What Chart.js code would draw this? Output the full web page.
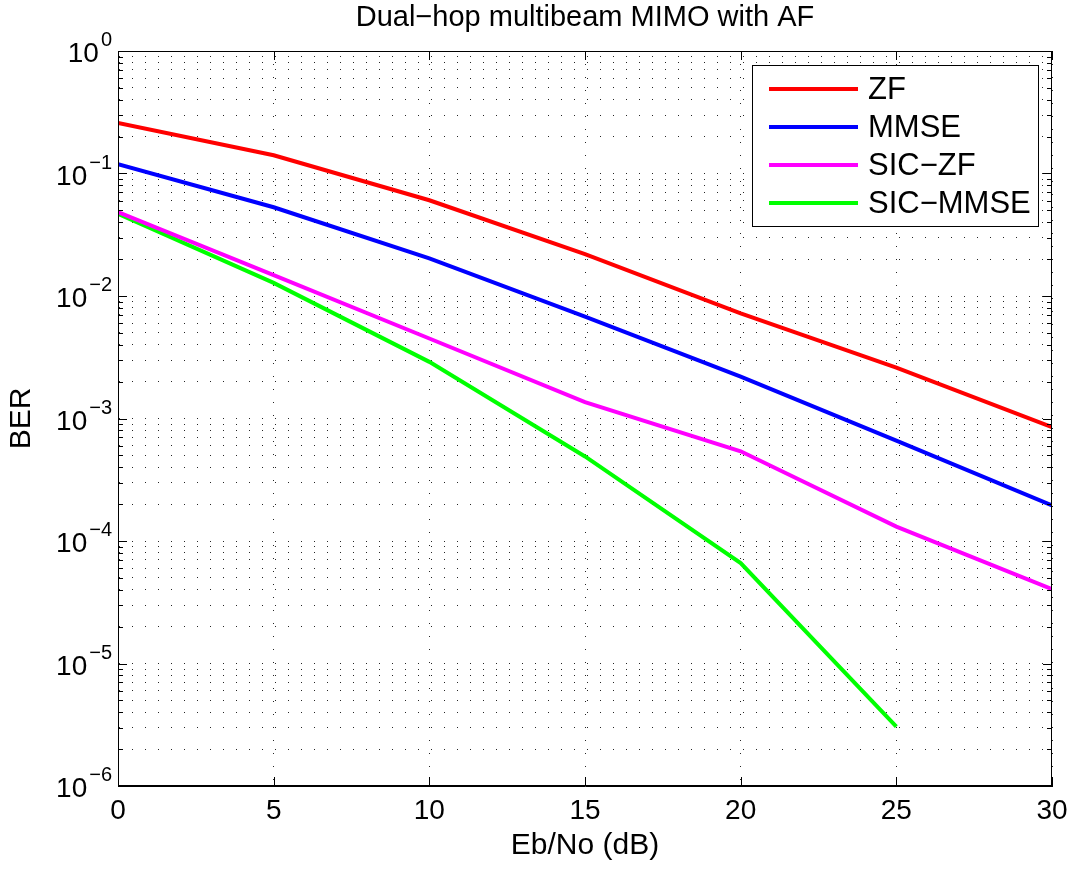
<!DOCTYPE html>
<html>
<head>
<meta charset="utf-8">
<script src="https://cdn.jsdelivr.net/npm/chart.js@4/dist/chart.umd.min.js"></script>
<style>
  html, body { margin: 0; padding: 0; background: #fff; }
  #wrap { width: 1079px; height: 874px; }
</style>
</head>
<body>
<div id="wrap"><canvas id="berChart" width="1079" height="874"></canvas></div>
<script>
// Eb/No points (dB)
const ebno = [0, 5, 10, 15, 20, 25, 30];

// BER curves
const berZF = [0.258, 0.141, 0.0605, 0.0220, 0.0072, 0.0026, 0.00085];
const berMMSE = [0.119, 0.053, 0.0203, 0.0068, 0.0022, 0.00066, 0.000195];
const berSicZF = [0.0485, 0.0148, 0.0045, 0.00136, 0.00054, 0.000131, 0.0000405];
const berSicMMSE = [0.0468, 0.0128, 0.0029, 0.00049, 0.000066, 0.00000305, null];

const seriesNames = ['ZF', 'MMSE', 'SIC\u2212ZF', 'SIC\u2212MMSE'];
const seriesColors = ['#ff0000', '#0000ff', '#ff00ff', '#00ff00'];

// axis ticks
const xTicks = [0, 5, 10, 15, 20, 25, 30];
const yTickExps = [0, -1, -2, -3, -4, -5, -6];

const chartTitle = 'Dual\u2212hop multibeam MIMO with AF';
const FONT = "'Liberation Sans', Arial, Helvetica, sans-serif";

function toPoints(ys) {
    return ebno.map((x, i) => ({ x: x, y: ys[i] })).filter(p => p.y !== null);
}

const allSeries = [berZF, berMMSE, berSicZF, berSicMMSE];

// title over the plot box, y tick labels as 10 with a raised exponent,
// inward ticks, box and legend
const matlabAxes = {
    id: 'matlabAxes',
    afterDraw(chart) {
        const { ctx, chartArea: a, scales } = chart;
        const xs = scales.x, ys = scales.y;
        ctx.save();

        // title centred on the axes
        ctx.fillStyle = '#000';
        ctx.font = '29px ' + FONT;
        ctx.textAlign = 'center';
        ctx.textBaseline = 'alphabetic';
        ctx.fillText(chartTitle, (a.left + a.right) / 2, a.top - 25);

        ctx.strokeStyle = '#000';
        ctx.lineWidth = 1;
        // box
        ctx.strokeRect(a.left + 0.5, a.top + 0.5, a.right - a.left - 1, a.bottom - a.top - 1);
        ctx.beginPath();
        // x ticks (bottom and top)
        xTicks.forEach(v => {
            const px = Math.round(xs.getPixelForValue(v)) + 0.5;
            ctx.moveTo(px, a.bottom); ctx.lineTo(px, a.bottom - 9);
            ctx.moveTo(px, a.top); ctx.lineTo(px, a.top + 9);
        });
        // y ticks, major and minor (left and right)
        yTickExps.forEach(e => {
            for (let m = 1; m <= 9; m++) {
                const v = m * Math.pow(10, e);
                if (v > 1) continue;
                const py = Math.round(ys.getPixelForValue(v)) + 0.5;
                const len = m === 1 ? 9 : 5;
                ctx.moveTo(a.left, py); ctx.lineTo(a.left + len, py);
                ctx.moveTo(a.right, py); ctx.lineTo(a.right - len, py);
            }
        });
        ctx.stroke();

        // y tick labels
        yTickExps.forEach(e => {
            const py = ys.getPixelForValue(Math.pow(10, e));
            const expTxt = e < 0 ? '\u2212' + (-e) : String(e);
            ctx.font = '20px ' + FONT;
            const ew = ctx.measureText(expTxt).width;
            const right = a.left - 6;
            ctx.textAlign = 'left';
            ctx.fillText(expTxt, right - ew, py - 5);
            ctx.font = '28px ' + FONT;
            ctx.textAlign = 'right';
            ctx.fillText('10', right - ew - 2, py + 11);
        });

        // legend
        const lx = 752, ly = 65, lw = 286, lh = 161;
        ctx.fillStyle = '#fff';
        ctx.fillRect(lx, ly, lw, lh);
        ctx.strokeRect(lx + 0.5, ly + 0.5, lw, lh);
        ctx.font = '31px ' + FONT;
        ctx.textAlign = 'left';
        ctx.textBaseline = 'middle';
        chart.data.datasets.forEach((ds, i) => {
            const yy = ly + 24 + i * 38;
            ctx.strokeStyle = ds.borderColor;
            ctx.lineWidth = 4;
            ctx.beginPath();
            ctx.moveTo(lx + 17, yy); ctx.lineTo(lx + 106, yy);
            ctx.stroke();
            ctx.fillStyle = '#000';
            ctx.fillText(ds.label, lx + 116, yy + 1);
        });
        ctx.restore();
    }
};

new Chart(document.getElementById('berChart').getContext('2d'), {
    type: 'line',
    data: {
        datasets: allSeries.map((s, i) => ({
            label: seriesNames[i],
            data: toPoints(s),
            borderColor: seriesColors[i],
            backgroundColor: seriesColors[i],
            borderWidth: 4,
            pointRadius: 0,
            tension: 0,
            fill: false
        }))
    },
    options: {
        responsive: false,
        animation: false,
        layout: { padding: { left: 0, right: 27, top: 51, bottom: 0 } },
        plugins: {
            legend: { display: false },
            tooltip: { enabled: false },
            title: { display: false }
        },
        scales: {
            x: {
                type: 'linear',
                min: 0,
                max: 30,
                afterBuildTicks: sc => { sc.ticks = xTicks.map(v => ({ value: v })); },
                afterFit: sc => { sc.height = 88; },
                ticks: { color: '#000', font: { family: FONT, size: 28 }, padding: 8, maxRotation: 0 },
                grid: { color: 'rgba(0,0,0,0.85)', lineWidth: 1, drawTicks: false },
                border: { display: true, color: '#000', width: 1, dash: [1, 12] },
                title: {
                    display: true,
                    text: 'Eb/No (dB)',
                    color: '#000',
                    font: { family: FONT, size: 30 },
                    padding: { top: 0, bottom: 10 }
                }
            },
            y: {
                type: 'logarithmic',
                min: 1e-6,
                max: 1,
                afterBuildTicks: sc => {
                    const t = [];
                    yTickExps.forEach(e => {
                        for (let m = 1; m <= 9; m++) {
                            const v = m * Math.pow(10, e);
                            if (v <= 1) t.push({ value: v });
                        }
                    });
                    sc.ticks = t;
                },
                afterFit: sc => { sc.width = 118; },
                ticks: { callback: () => '', autoSkip: false },
                grid: { color: 'rgba(0,0,0,0.85)', lineWidth: 1, drawTicks: false },
                border: { display: true, color: '#000', width: 1, dash: [1, 12] },
                title: {
                    display: true,
                    text: 'BER',
                    color: '#000',
                    font: { family: FONT, size: 30 },
                    padding: { top: 4, bottom: 0 }
                }
            }
        }
    },
    plugins: [matlabAxes]
});
</script>
</body>
</html>
